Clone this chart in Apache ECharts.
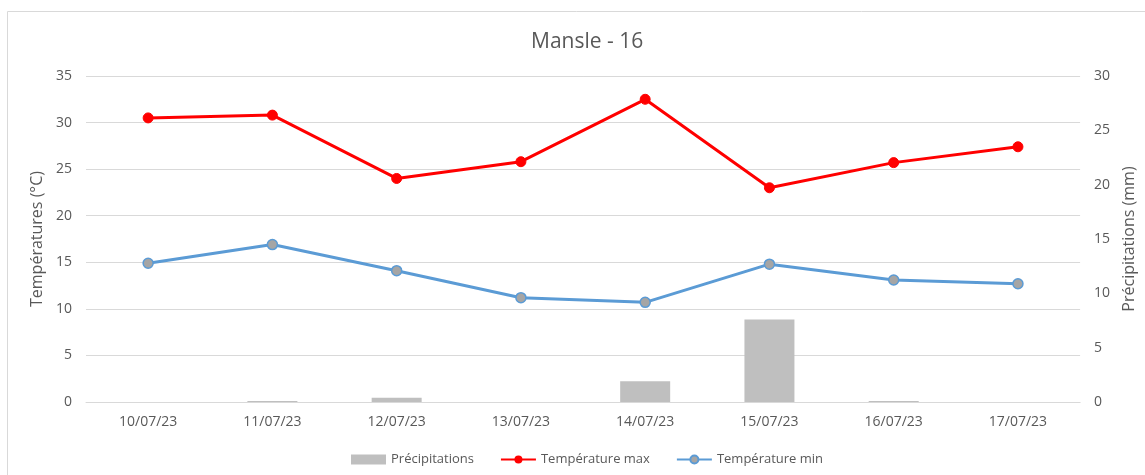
<!DOCTYPE html>
<html><head><meta charset="utf-8">
<script src="https://cdn.jsdelivr.net/npm/echarts@6/dist/echarts.min.js"></script>
<style>html,body{margin:0;padding:0;background:#fff}#c{width:1145px;height:475px}</style>
</head><body><div id="c"></div>
<script>
const categories = ['10/07/23','11/07/23','12/07/23','13/07/23','14/07/23','15/07/23','16/07/23','17/07/23'];
const precipitations = [0, 0.1, 0.4, 0, 1.9, 7.6, 0.1, 0];
const tempMax = [30.5, 30.8, 24.0, 25.8, 32.5, 23.0, 25.7, 27.4];
const tempMin = [14.9, 16.9, 14.1, 11.2, 10.7, 14.8, 13.1, 12.7];

const FONT = 'Open Sans';
const TXT = '#595959';
const chart = echarts.init(document.getElementById('c'), null, {renderer:'canvas'});
chart.setOption({
  animation: false,
  textStyle: {fontFamily: FONT},
  graphic: [{type:'rect', shape:{x:7.5, y:11.5, width:1150, height:480}, style:{fill:'none', stroke:'#d9d9d9', lineWidth:1}, z:-10}],
  title: {text:'Mansle - 16', left:526, top:27, textStyle:{fontFamily:FONT, fontSize:21, fontWeight:'normal', color:TXT}},
  legend: {
    left: 346, top: 448, itemGap: 26, itemWidth: 35, itemHeight: 10,
    textStyle:{fontFamily:FONT, fontSize:13, color:TXT},
    data: [
      {name:'Précipitations', icon:'rect'},
      {name:'Température max'},
      {name:'Température min'}
    ]
  },
  grid: {left:86, right:63, top:76, bottom:73},
  xAxis: {
    type:'category', data:categories,
    axisLine:{show:true, lineStyle:{color:'#d9d9d9'}}, axisTick:{show:false},
    axisLabel:{color:TXT, fontSize:14, margin:13, fontFamily:FONT}
  },
  yAxis: [
    {type:'value', min:0, max:35, interval:5, name:'Températures (°C)', nameLocation:'middle', nameGap:38,
     nameTextStyle:{color:TXT, fontSize:16, fontFamily:FONT},
     axisLabel:{color:TXT, fontSize:14, margin:14, fontFamily:FONT},
     axisLine:{show:false}, axisTick:{show:false},
     splitLine:{lineStyle:{color:'#d9d9d9'}}},
    {type:'value', min:0, max:30, interval:5, name:'Précipitations (mm)', nameLocation:'middle', nameGap:40,
     nameTextStyle:{color:TXT, fontSize:16, fontFamily:FONT},
     axisLabel:{color:TXT, fontSize:14, margin:14, fontFamily:FONT},
     axisLine:{show:false}, axisTick:{show:false}, splitLine:{show:false}}
  ],
  series: [
    {name:'Précipitations', type:'bar', yAxisIndex:1, data:precipitations, barWidth:50, itemStyle:{color:'#bfbfbf'}},
    {name:'Température max', type:'line', data:tempMax, symbol:'circle', symbolSize:10,
     lineStyle:{color:'#ff0000', width:3}, itemStyle:{color:'#ff0000', borderColor:'#ff0000'}},
    {name:'Température min', type:'line', data:tempMin, symbol:'circle', symbolSize:10,
     lineStyle:{color:'#5b9bd5', width:3}, itemStyle:{color:'#a5a5a5', borderColor:'#5b9bd5', borderWidth:1.5}}
  ]
});
</script></body></html>
